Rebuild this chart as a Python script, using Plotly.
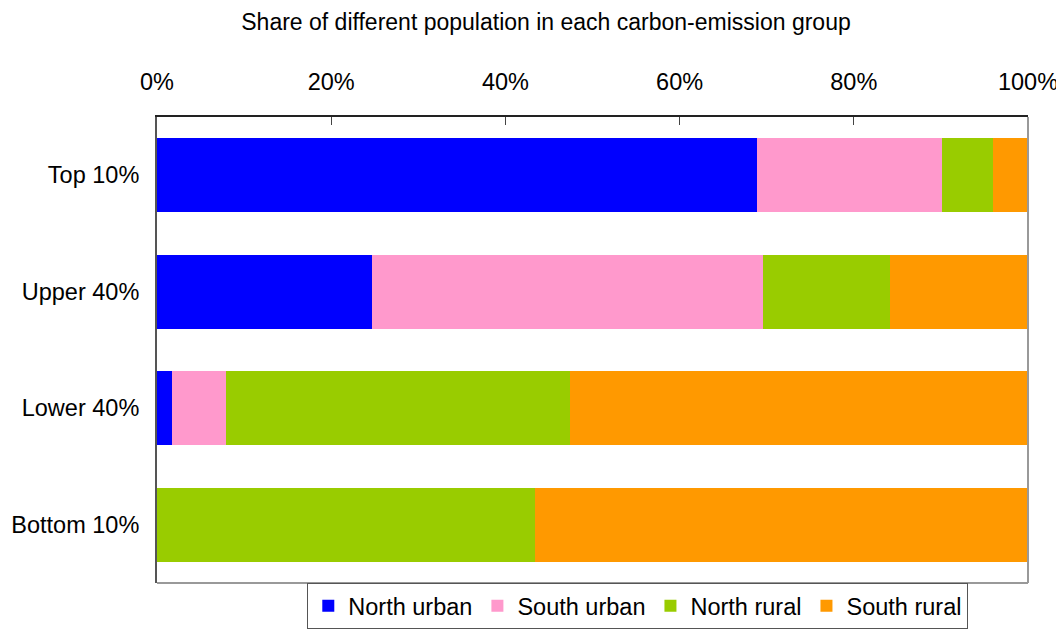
import plotly.graph_objects as go

categories = ["Top 10%", "Upper 40%", "Lower 40%", "Bottom 10%"]
north_urban = [68.9, 24.7, 1.7, 0.0]
south_urban = [21.2, 44.9, 6.2, 0.0]
north_rural = [5.9, 14.5, 39.5, 43.4]
south_rural = [4.0, 15.9, 52.6, 56.6]
series = [
    ("North urban", north_urban, "#0000FF"),
    ("South urban", south_urban, "#FF99CC"),
    ("North rural", north_rural, "#99CC00"),
    ("South rural", south_rural, "#FF9900"),
]
x_ticks = [0, 20, 40, 60, 80, 100]
x_tick_labels = ["0%", "20%", "40%", "60%", "80%", "100%"]

FONT = "Liberation Sans, Arial, sans-serif"
W, H = 1056, 622  # page body has an 8px margin

fig = go.Figure()
for name, vals, color in series:
    fig.add_trace(go.Bar(
        y=categories, x=vals, name=name, orientation="h",
        marker=dict(color=color, line=dict(width=0)),
    ))

fig.update_layout(
    width=W, height=H,
    barmode="stack", bargap=0.367,
    paper_bgcolor="white", plot_bgcolor="white",
    margin=dict(l=149, r=36, t=109, b=47, autoexpand=False),
    font=dict(family=FONT, size=23.5, color="black"),
    title=dict(text="Share of different population in each carbon-emission group",
               x=538/W, xanchor="center", y=1-14/H, yanchor="middle",
               font=dict(family=FONT, size=23, color="black")),
    showlegend=True,
    legend=dict(orientation="h", x=0.552, xanchor="center", y=-0.0987, yanchor="bottom",
                bordercolor="#555", borderwidth=1, bgcolor="white",
                font=dict(family=FONT, size=23.5), traceorder="normal",
                itemwidth=30, tracegroupgap=0),
    xaxis=dict(range=[0, 100], side="top", tickvals=x_ticks, ticktext=x_tick_labels,
               ticks="inside", ticklen=8, tickcolor="#444", showgrid=False, zeroline=False,
               showline=True, linecolor="#222", linewidth=1.5, mirror=False,
               ticklabelstandoff=16, fixedrange=True),
    yaxis=dict(autorange="reversed", showgrid=False, zeroline=False,
               showline=True, linecolor="#555", linewidth=2, ticks="",
               ticklabelstandoff=11, fixedrange=True),
    shapes=[
        dict(type="line", xref="paper", yref="paper", x0=1, x1=1, y0=0, y1=1,
             line=dict(color="#999", width=2)),
        dict(type="line", xref="paper", yref="paper", x0=0, x1=1, y0=0, y1=0,
             line=dict(color="#999", width=2)),
    ],
)

fig.write_html("out.html")
